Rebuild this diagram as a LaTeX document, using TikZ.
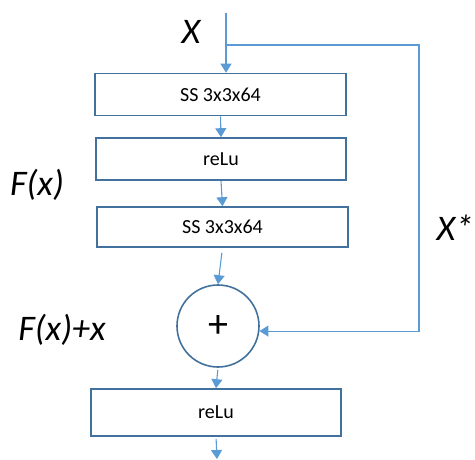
\documentclass[tikz,border=0pt]{standalone}
\usepackage{fontspec}
\setmainfont{Carlito}
\usetikzlibrary{arrows.meta}
\usetikzlibrary{calc}

\definecolor{boxblue}{HTML}{41719C}
\definecolor{arrowblue}{HTML}{5B9BD5}

\begin{document}
\begin{tikzpicture}[x=1pt,y=-1pt,>={Triangle[length=9pt,width=11pt]}]

\tikzset{layerbox/.style={draw=boxblue,line width=1.6pt,minimum width=251pt,minimum height=42pt,inner sep=0pt,font=\fontsize{20}{24}\selectfont}}

\tikzset{flow/.style={draw=arrowblue,line width=1.1pt,->}}

\tikzset{sidelabel/.style={font=\fontsize{36}{40}\selectfont\itshape}}

\useasboundingbox (0,0) rectangle (475,459);

%input and skip corner
\coordinate (in) at (226,13);
\coordinate (split) at (226,45);
\coordinate (corner) at (419,45);
\coordinate (out) at (217,459);

%layers
\node [layerbox] (conv1) at (220.5,94.5) {SS 3x3x64};
\node [layerbox,minimum width=250pt] (relu1) at (221,159) {reLu};
\node [layerbox,minimum height=40pt] (conv2) at (222.5,227) {SS 3x3x64};

%sum
\node [circle,draw=boxblue,line width=1.6pt,minimum size=82pt,inner sep=0pt,font=\fontsize{40}{44}\selectfont] (sum) at (218,326) {+};

%last relu
\node [layerbox,minimum width=250pt,minimum height=47pt] (relu2) at (216,412.5) {reLu};

%labels
\node [sidelabel] (xlabel) at (191,32) {X};
\node [sidelabel] (flabel) at (37,185) {F(x)};
\node [sidelabel] (xstar) at (455,228) {X*};
\node [sidelabel] (fxlabel) at (62,330) {F(x)+x};

%arrows
\draw[flow] (in) -- (in |- conv1.north);
\draw[flow] (conv1.south) -- (relu1.north);
\draw[flow] (relu1.south) -- (conv2.north);
\draw[flow,shorten <=5pt] (conv2.south) -- (sum.north);
\draw[flow,shorten <=2pt] (sum.south) -- (relu2.north);
\draw[flow,shorten <=2pt] (relu2.south) -- (out);

%skip connection
\draw[flow] (split) -- (corner) |- (sum.-7);

\end{tikzpicture}
\end{document}
